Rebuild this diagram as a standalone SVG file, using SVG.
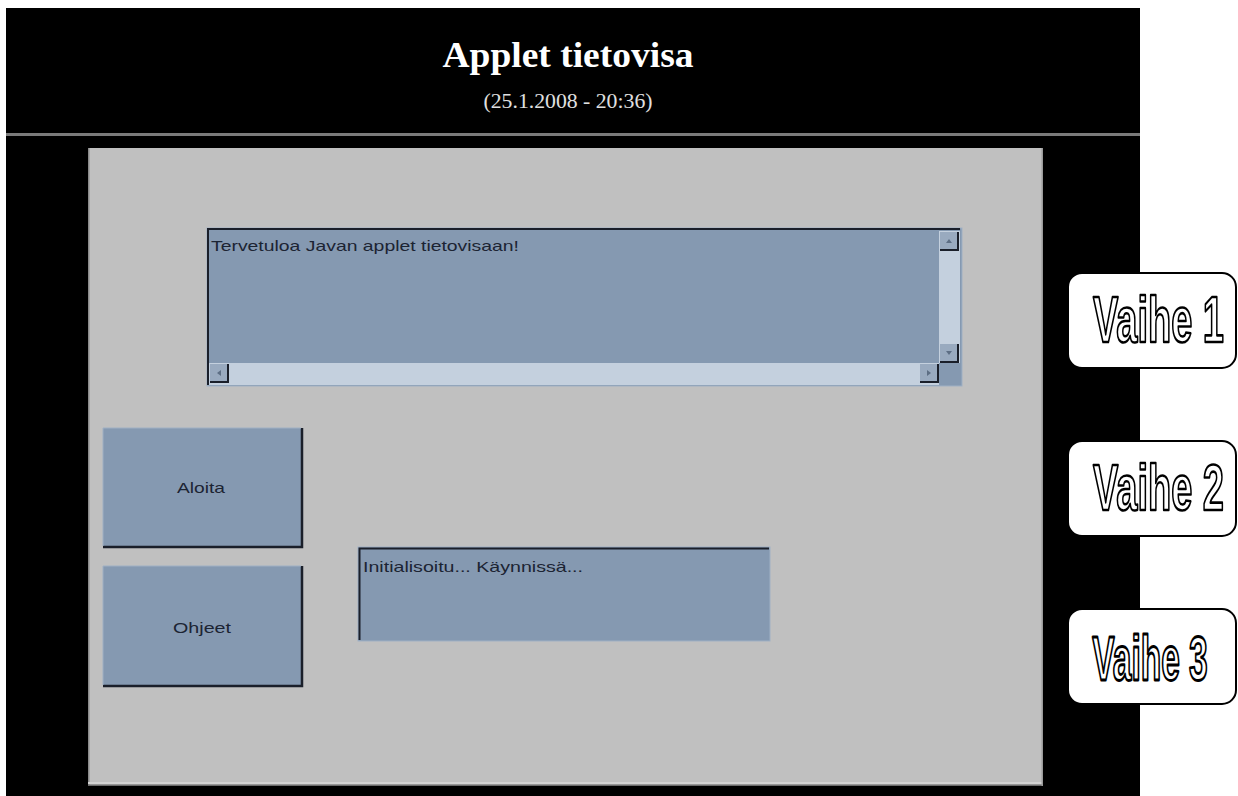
<svg xmlns="http://www.w3.org/2000/svg" width="1238" height="796" viewBox="0 0 1238 796">
<style>
.ui{font-family:"Liberation Sans",Arial,sans-serif;font-size:15px;fill:#1c2433}
.field{fill:#8599b1}
.sb{fill:#c4d0de}
.btnface{fill:#8599b1}
.step{fill:#fff;stroke:#000;stroke-width:2}
.steptxt{font-family:"Liberation Sans",Arial,sans-serif;font-weight:bold;fill:#fff;stroke:#000;stroke-width:1.5;stroke-linejoin:round}
</style>
<rect width="1238" height="796" fill="#fff"/>
<g id="background">
<rect x="6" y="8" width="1134" height="788" fill="#000"/>
<rect x="6" y="133" width="1134" height="3" fill="#7a7a7a"/>
</g>
<g id="header">
<text x="568" y="67" text-anchor="middle" font-family="'Liberation Serif','Times New Roman',serif" font-weight="bold" font-size="36" fill="#fff" textLength="251" lengthAdjust="spacingAndGlyphs">Applet tietovisa</text>
<text x="568" y="108" text-anchor="middle" font-family="'Liberation Serif','Times New Roman',serif" font-size="20" fill="#e0e0e0" textLength="169" lengthAdjust="spacingAndGlyphs">(25.1.2008 - 20:36)</text>
</g>
<g id="panel">
<rect x="88" y="148" width="955" height="638" fill="#c0c0c0"/>
<rect x="88" y="148" width="1.5" height="638" fill="#8a8a8a"/>
<rect x="88" y="782" width="955" height="2" fill="#d2d2d2"/>
<rect x="88" y="784.5" width="955" height="1.5" fill="#6a6a6a"/>
<rect x="1041.5" y="148" width="1.5" height="638" fill="#9a9a9a"/>
</g>
<g id="textarea">
<rect x="207" y="228" width="755" height="158" class="field"/>
<rect x="207" y="228" width="755" height="158" fill="none" stroke="#9fb0c4" stroke-width="1"/>
<path d="M208 385 V229 H960" fill="none" stroke="#1a1f2a" stroke-width="2"/>
<rect x="939" y="231" width="21" height="132" class="sb"/>
<rect x="209" y="363" width="730" height="22" class="sb"/>
<rect x="940" y="232" width="18" height="18" fill="#99aabf"/>
<path d="M940 250 H958 V232" fill="none" stroke="#1a1f2a" stroke-width="2"/>
<path d="M946 243 L949 239 L952 243 Z" fill="#5d6e84"/>
<rect x="940" y="344" width="18" height="18" fill="#99aabf"/>
<path d="M940 362 H958 V344" fill="none" stroke="#1a1f2a" stroke-width="2"/>
<path d="M946 351 L949 355 L952 351 Z" fill="#5d6e84"/>
<rect x="940" y="364" width="21" height="21" class="field"/>
<rect x="210" y="364" width="18" height="18" fill="#99aabf"/>
<path d="M210 382 H228 V364" fill="none" stroke="#1a1f2a" stroke-width="2"/>
<path d="M221 370 L217 373 L221 376 Z" fill="#5d6e84"/>
<rect x="920" y="364" width="18" height="18" fill="#99aabf"/>
<path d="M920 382 H938 V364" fill="none" stroke="#1a1f2a" stroke-width="2"/>
<path d="M927 370 L931 373 L927 376 Z" fill="#5d6e84"/>
<text x="211" y="251" class="ui" textLength="308" lengthAdjust="spacingAndGlyphs">Tervetuloa Javan applet tietovisaan!</text>
</g>
<g id="btn-aloita">
<rect x="103" y="428" width="199" height="119" class="btnface"/>
<path d="M103 547 H302 V428" fill="none" stroke="#1a1f2a" stroke-width="2.5"/>
<path d="M103 546 V428 H301" fill="none" stroke="#9fb0c4" stroke-width="1"/>
<text x="201" y="493" class="ui" text-anchor="middle" textLength="48" lengthAdjust="spacingAndGlyphs">Aloita</text>
</g>
<g id="btn-ohjeet">
<rect x="103" y="566" width="199" height="120" class="btnface"/>
<path d="M103 686 H302 V566" fill="none" stroke="#1a1f2a" stroke-width="2.5"/>
<path d="M103 685 V566 H301" fill="none" stroke="#9fb0c4" stroke-width="1"/>
<text x="202" y="633" class="ui" text-anchor="middle" textLength="58" lengthAdjust="spacingAndGlyphs">Ohjeet</text>
</g>
<g id="status">
<rect x="358" y="547" width="412" height="94" class="field"/>
<rect x="358" y="547" width="412" height="94" fill="none" stroke="#9fb0c4" stroke-width="1"/>
<path d="M359.5 640 V548.5 H769" fill="none" stroke="#1a1f2a" stroke-width="2"/>
<text x="363" y="572" class="ui" textLength="220" lengthAdjust="spacingAndGlyphs">Initialisoitu... Käynnissä...</text>
</g>
<g id="vaihe1">
<rect x="1068" y="273" width="168" height="95" rx="14" class="step"/>
<text transform="translate(1158.5,342) scale(1,1.72)" class="steptxt" font-size="38" text-anchor="middle">Vaihe 1</text>
</g>
<g id="vaihe2">
<rect x="1068" y="441" width="168" height="95" rx="14" class="step"/>
<text transform="translate(1158.5,510) scale(1,1.72)" class="steptxt" font-size="38" text-anchor="middle">Vaihe 2</text>
</g>
<g id="vaihe3">
<rect x="1068" y="609" width="168" height="95" rx="14" class="step"/>
<text transform="translate(1150,680) scale(1,1.9)" class="steptxt" font-size="33.5" text-anchor="middle">Vaihe 3</text>
</g>
</svg>
